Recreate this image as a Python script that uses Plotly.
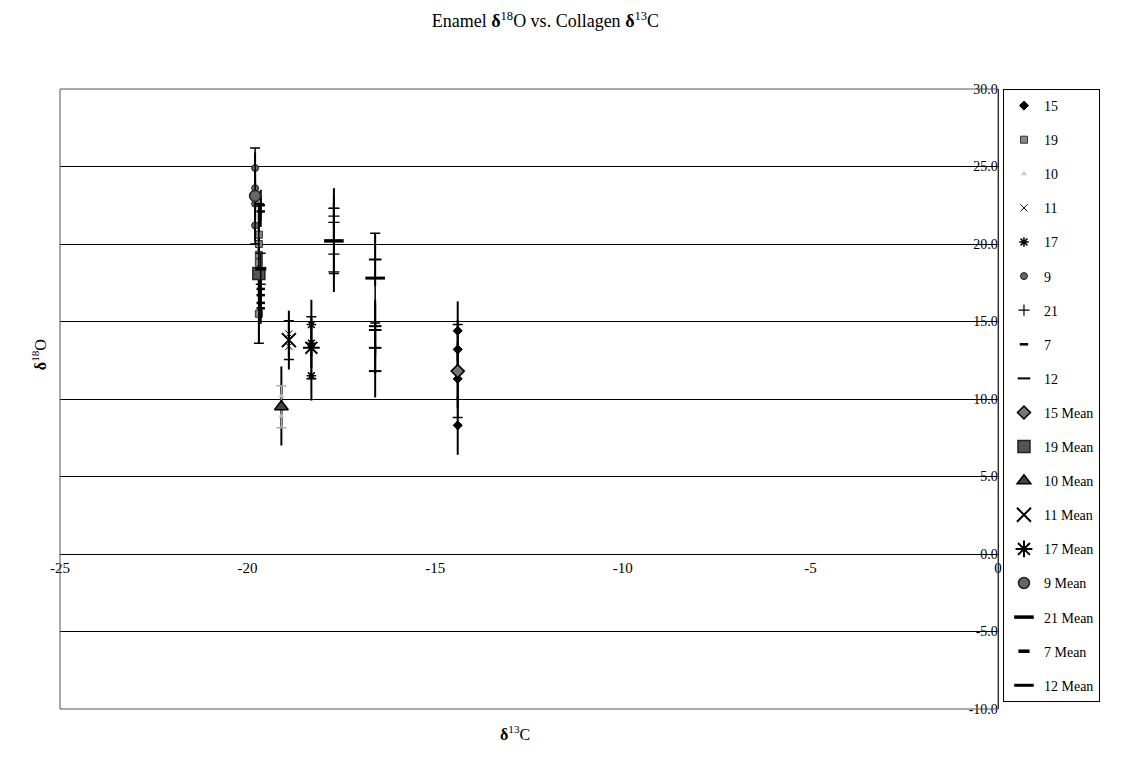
import plotly.graph_objects as go

# ---------------- data ----------------
series_names = ["15", "19", "10", "11", "17", "9", "21", "7", "12"]
series_x = [-14.4, -19.7, -19.1, -18.9, -18.3, -19.8, -17.7, -19.65, -16.6]
y_15 = [14.4, 13.2, 11.8, 11.3, 8.3]
y_19 = [20.6, 20.0, 19.3, 18.8, 15.5]
y_10 = [10.2, 8.9]
y_11 = [14.2, 13.4]
y_17 = [14.8, 13.6, 11.5]
y_9 = [24.9, 23.6, 23.05, 22.6, 21.2]
y_21 = [22.3, 21.8, 21.4, 19.35, 18.2]
y_7 = [22.5, 22.1, 17.1, 16.7, 16.2, 15.85]
y_12 = [19.0, 14.7, 14.45, 13.3, 11.8]
series_y = [y_15, y_19, y_10, y_11, y_17, y_9, y_21, y_7, y_12]
point_err = [1.9, 1.9, 1.9, 1.5, 1.6, 1.0, 1.3, 1.0, 1.7]

mean_names = ["15 Mean", "19 Mean", "10 Mean", "11 Mean", "17 Mean", "9 Mean", "21 Mean", "7 Mean", "12 Mean"]
mean_y = [11.8, 18.1, 9.5, 13.8, 13.3, 23.1, 20.2, 18.4, 17.8]
mean_sd = [3.0, 4.5, 1.35, 1.25, 2.0, 3.1, 2.1, 1.0, 2.9]

x_tickvals = [-25, -20, -15, -10, -5, 0]
x_ticktext = ["-25", "-20", "-15", "-10", "-5", "0"]
y_tickvals = [-10, -5, 0, 5, 10, 15, 20, 25, 30]
y_ticktext = ["-10.0", "-5.0", "0.0", "5.0", "10.0", "15.0", "20.0", "25.0", "30.0"]

# ---------------- styles ----------------
point_styles = [
    dict(symbol="diamond", size=7, color="black", line=dict(color="black", width=1)),
    dict(symbol="square", size=7, color="#888888", line=dict(color="#333333", width=1)),
    dict(symbol="triangle-up", size=6, color="#d0d0d0", line=dict(color="#d0d0d0", width=0)),
    dict(symbol="x-thin-open", size=7, color="black", line=dict(color="black", width=1)),
    dict(symbol="asterisk-open", size=8, color="black", line=dict(color="black", width=1.5)),
    dict(symbol="circle", size=7, color="#666666", line=dict(color="#222222", width=1)),
    dict(symbol="cross-thin-open", size=8, color="black", line=dict(color="black", width=1.2)),
    dict(symbol="line-ew-open", size=6, color="black", line=dict(color="black", width=2.5)),
    dict(symbol="line-ew-open", size=9, color="black", line=dict(color="black", width=2)),
]
mean_styles = [
    dict(symbol="diamond", size=10, color="#777777", line=dict(color="black", width=1.5)),
    dict(symbol="square", size=12, color="#555555", line=dict(color="#222222", width=1.5)),
    dict(symbol="triangle-up", size=12, color="#444444", line=dict(color="black", width=1.5)),
    dict(symbol="x-thin-open", size=14, color="black", line=dict(color="black", width=2)),
    dict(symbol="asterisk-open", size=14, color="black", line=dict(color="black", width=2)),
    dict(symbol="circle", size=11, color="#666666", line=dict(color="#222222", width=1.5)),
    dict(symbol="line-ew-open", size=14, color="black", line=dict(color="black", width=3.5)),
    dict(symbol="line-ew-open", size=8, color="black", line=dict(color="black", width=3.5)),
    dict(symbol="line-ew-open", size=14, color="black", line=dict(color="black", width=3)),
]
mean_err_color = ["black", "black", "#aaaaaa", "black", "black", "black", "black", "black", "black"]

FONT = "Liberation Serif"

fig = go.Figure()
for i, name in enumerate(series_names):
    ys = series_y[i]
    fig.add_trace(go.Scatter(
        x=[series_x[i]] * len(ys), y=ys, mode="markers", name=name,
        legendgroup=name, marker=point_styles[i],
        error_y=dict(type="constant", value=point_err[i], width=0,
                     color="black", thickness=2),
    ))
for i, name in enumerate(mean_names):
    fig.add_trace(go.Scatter(
        x=[series_x[i]], y=[mean_y[i]], mode="markers", name=name,
        legendgroup=name, marker=mean_styles[i],
        error_y=dict(type="data", array=[mean_sd[i]], width=5,
                     color=mean_err_color[i], thickness=1.5),
    ))

fig.update_layout(
    width=1141, height=757,
    margin=dict(l=60, r=143, t=89, b=48),
    paper_bgcolor="white", plot_bgcolor="white",
    font=dict(family=FONT, size=14, color="black"),
    title=dict(text="Enamel <b>δ</b><sup>18</sup>O vs. Collagen <b>δ</b><sup>13</sup>C",
               x=0.478, xref="container", xanchor="center",
               y=0.972, yref="container", yanchor="middle",
               font=dict(family=FONT, size=18)),
    showlegend=True,
    legend=dict(x=1.0053, y=1.0, xanchor="left", yanchor="top",
                bordercolor="black", borderwidth=1,
                font=dict(family=FONT, size=14),
                tracegroupgap=12.9, itemsizing="trace"),
    xaxis=dict(range=[-25, 0], tickvals=x_tickvals, ticktext=x_ticktext,
               anchor="free", position=0.25, showline=True, linecolor="black",
               linewidth=1, showgrid=False, zeroline=False, ticks="",
               tickfont=dict(size=15)),
    yaxis=dict(range=[-10, 30], tickvals=y_tickvals, ticktext=y_ticktext,
               side="right", ticklabelposition="inside", ticklabeloverflow="allow",
               showline=True, linecolor="black", showgrid=True, gridcolor="black",
               gridwidth=1, zeroline=False, tickfont=dict(size=14, color="black")),
    shapes=[dict(type="rect", xref="paper", yref="paper", x0=0, x1=1, y0=0, y1=1,
                 line=dict(color="#555555", width=1), layer="above")],
    annotations=[
        dict(text="<b>δ</b><sup>13</sup>C", xref="paper", yref="paper",
             x=0.485, y=-0.058, showarrow=False, font=dict(size=16)),
        dict(text="<b>δ</b><sup>18</sup>O", xref="paper", yref="paper",
             x=-0.035, y=0.571, showarrow=False, textangle=-90, font=dict(size=16)),
    ],
)

fig.write_html("out.html")
